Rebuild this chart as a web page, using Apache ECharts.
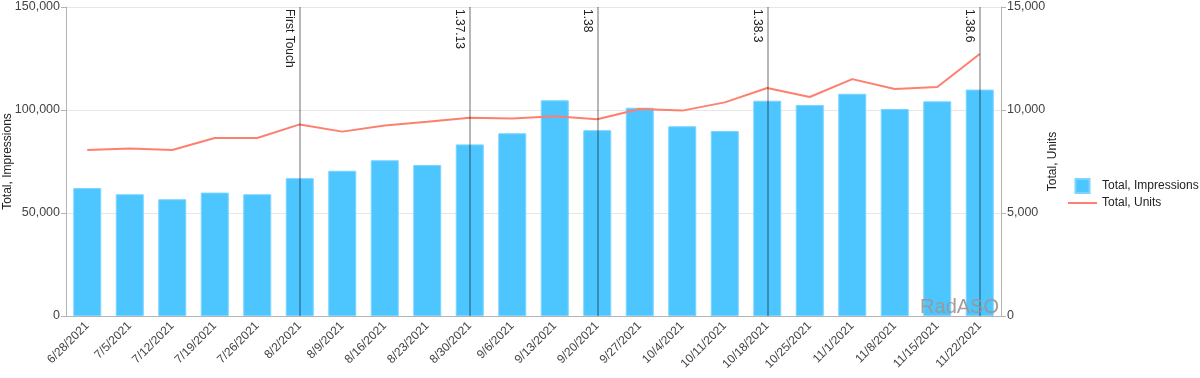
<!DOCTYPE html>
<html>
<head>
<meta charset="utf-8">
<script src="https://cdn.jsdelivr.net/npm/echarts@6/dist/echarts.min.js"></script>
<style>
  html, body { margin: 0; padding: 0; background: #fff; }
  #chart { width: 1200px; height: 378px; }
</style>
</head>
<body>
<div id="chart"></div>
<script>
// weeks
const weeks = ["6/28/2021", "7/5/2021", "7/12/2021", "7/19/2021", "7/26/2021", "8/2/2021",
  "8/9/2021", "8/16/2021", "8/23/2021", "8/30/2021", "9/6/2021", "9/13/2021", "9/20/2021",
  "9/27/2021", "10/4/2021", "10/11/2021", "10/18/2021", "10/25/2021", "11/1/2021",
  "11/8/2021", "11/15/2021", "11/22/2021"];
const impressions = [62100, 59100, 56700, 59900, 59100, 66900, 70500, 75600, 73300, 83300,
  88700, 104700, 90200, 101100, 92100, 89800, 104500, 102400, 107900, 100500, 104200, 109900];
const units = [8060, 8130, 8060, 8640, 8640, 9300, 8950, 9250, 9430, 9620,
  9590, 9700, 9550, 10050, 9970, 10370, 11070, 10630, 11500, 11020, 11120, 12720];
// app versions released
const releaseNames = ["First Touch", "1.37.13", "1.38", "1.38.3", "1.38.6"];
const releaseWeeks = ["8/2/2021", "8/30/2021", "9/20/2021", "10/18/2021", "11/22/2021"];
const leftTicks = [0, 50000, 100000, 150000];
const rightTicks = [0, 5000, 10000, 15000];

const font = "Liberation Sans, Arial, sans-serif";
const txt = "#444";
const axisGrey = "#b4b4b4";

let releaseLines = releaseNames.map((name, i) => [
  { name: name, coord: [releaseWeeks[i], leftTicks[leftTicks.length - 1]] },
  { coord: [releaseWeeks[i], leftTicks[0]] }
]);

let myChart = echarts.init(document.getElementById("chart"));
myChart.setOption({
  animation: false,
  textStyle: { fontFamily: font },
  grid: { left: 66, right: 199, top: 7, bottom: 62, outerBoundsMode: "none", containLabel: false },
  legend: {
    orient: "vertical",
    left: 1063,
    top: 173,
    itemWidth: 29,
    itemHeight: 14,
    itemGap: 3,
    textStyle: { fontSize: 12, color: "#222", fontFamily: font },
    data: [
      { name: "Total, Impressions", icon: "path://M0,0h14v14h-14z" },
      { name: "Total, Units", icon: "path://M0,0h29v2h-29z" }
    ]
  },
  graphic: [{
    type: "text",
    right: 201,
    bottom: 61,
    z: 100,
    silent: true,
    style: { text: "RadASO", fontSize: 20, fontFamily: font, fill: "rgba(155,150,148,0.92)" }
  }],
  xAxis: {
    type: "category",
    data: weeks,
    axisLine: { lineStyle: { color: axisGrey } },
    axisTick: { length: 5, lineStyle: { color: axisGrey } },
    axisLabel: { rotate: 45, fontSize: 12, color: txt, margin: 8, interval: 0 }
  },
  yAxis: [
    {
      type: "value",
      min: leftTicks[0],
      max: leftTicks[leftTicks.length - 1],
      interval: leftTicks[1] - leftTicks[0],
      name: "Total, Impressions",
      nameLocation: "middle",
      nameRotate: 90,
      nameGap: 52,
      nameMoveOverlap: false,
      nameTextStyle: { fontSize: 12, color: "#222" },
      axisLine: { show: true, lineStyle: { color: axisGrey } },
      axisTick: { show: true, length: 5, lineStyle: { color: axisGrey } },
      axisLabel: { fontSize: 12.5, color: txt, margin: 6, formatter: (v) => v.toLocaleString("en-US") },
      splitLine: { lineStyle: { color: "#e6e6e6" } }
    },
    {
      type: "value",
      min: rightTicks[0],
      max: rightTicks[rightTicks.length - 1],
      interval: rightTicks[1] - rightTicks[0],
      name: "Total, Units",
      nameLocation: "middle",
      nameRotate: 90,
      nameGap: 46,
      nameMoveOverlap: false,
      nameTextStyle: { fontSize: 12, color: "#222" },
      axisLine: { show: true, lineStyle: { color: axisGrey } },
      axisTick: { show: true, length: 5, lineStyle: { color: axisGrey } },
      axisLabel: { fontSize: 12.5, color: txt, margin: 6, formatter: (v) => v.toLocaleString("en-US") },
      splitLine: { show: false }
    }
  ],
  series: [
    {
      name: "Total, Impressions",
      type: "bar",
      yAxisIndex: 0,
      data: impressions,
      barWidth: 28,
      itemStyle: { color: "#4dc6ff", borderColor: "#7bd4ff", borderWidth: 1 },
      markLine: {
        silent: true,
        symbol: "none",
        animation: false,
        lineStyle: { color: "rgba(0,0,0,0.36)", width: 1.6, type: "solid" },
        label: {
          show: true,
          position: "insideStartBottom",
          distance: [2, 4],
          fontSize: 12,
          color: "#222",
          formatter: (p) => p.name
        },
        data: releaseLines
      }
    },
    {
      name: "Total, Units",
      type: "line",
      yAxisIndex: 1,
      data: units,
      symbol: "none",
      lineStyle: { color: "#ff7f6e", width: 2 },
      itemStyle: { color: "#ff7f6e" },
      z: 3
    }
  ]
});
</script>
</body>
</html>
